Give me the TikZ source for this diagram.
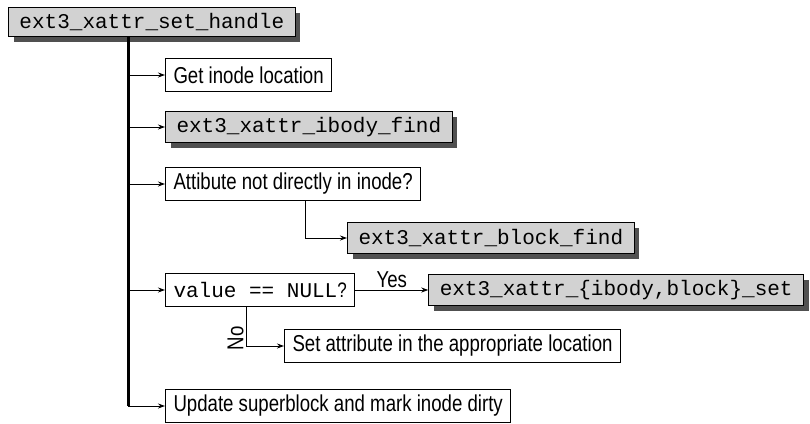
\documentclass[tikz,border=0pt]{standalone}
\usepackage{fontspec}
\setmainfont{Liberation Sans}[FakeStretch=0.81]
\setmonofont{Liberation Mono}
\usetikzlibrary{arrows.meta, positioning, shadows}

\definecolor{boxgray}{HTML}{D2D2D2}
\definecolor{shadowgray}{HTML}{505050}

\begin{document}
\begin{tikzpicture}[
    x=1pt, y=-1pt,
    txtbox/.style={rectangle, draw=black, line width=1pt, fill=white, minimum height=33pt, inner xsep=8pt, anchor=west, font=\fontsize{23}{26}\selectfont},
    codebox/.style={txtbox, fill=boxgray, inner xsep=11pt, minimum height=31pt, font=\fontsize{21}{24}\selectfont\ttfamily, drop shadow={shadow xshift=5pt, shadow yshift=-5pt, fill=shadowgray, opacity=1}},
    arrow/.style={-{Stealth[length=7pt, width=5pt]}, line width=0.9pt},
    trunk/.style={line width=2.4pt},
    lbl/.style={font=\fontsize{23}{26}\selectfont, inner sep=2pt}
]
\useasboundingbox (0,0) rectangle (810,423);

% Caller
\node[codebox, anchor=north west, minimum height=29pt] (handle) at (8,7) {ext3\_xattr\_set\_handle};
\coordinate (top) at ([xshift=-23.5pt]handle.south);

% Steps
\node[txtbox] (getloc) at (165,75) {Get inode location};
\node[codebox] (ibody) at (165,127) {ext3\_xattr\_ibody\_find};
\node[txtbox] (attr) at (165,184) {Attibute not directly in inode?};
\node[codebox] (blockfind) at (347,238) {ext3\_xattr\_block\_find};
\node[txtbox] (value) at (165,290) {\ttfamily\fontsize{21}{24}\selectfont value == NULL\rmfamily ?};
\node[codebox, right=73pt of value] (set) {ext3\_xattr\_\{ibody,block\}\_set};
\node[txtbox] (setattr) at (284,346) {Set attribute in the appropriate location};
\node[txtbox] (update) at (165,406) {Update superblock and mark inode dirty};

% Arrows
\draw[trunk] (top) -- (top |- update.west);
\foreach \n in {getloc, ibody, attr, value, update}
    \draw[arrow] (top |- \n.west) -- (\n.west);
\draw[arrow] ([xshift=12pt]attr.south) |- (blockfind.west);
\draw[arrow] (value.east) -- node[lbl, above] {Yes} (set.west);
\draw[arrow] ([xshift=-14pt]value.south) |- node[lbl, pos=0.4, anchor=south, rotate=90] {No} (setattr.west);

\end{tikzpicture}
\end{document}
